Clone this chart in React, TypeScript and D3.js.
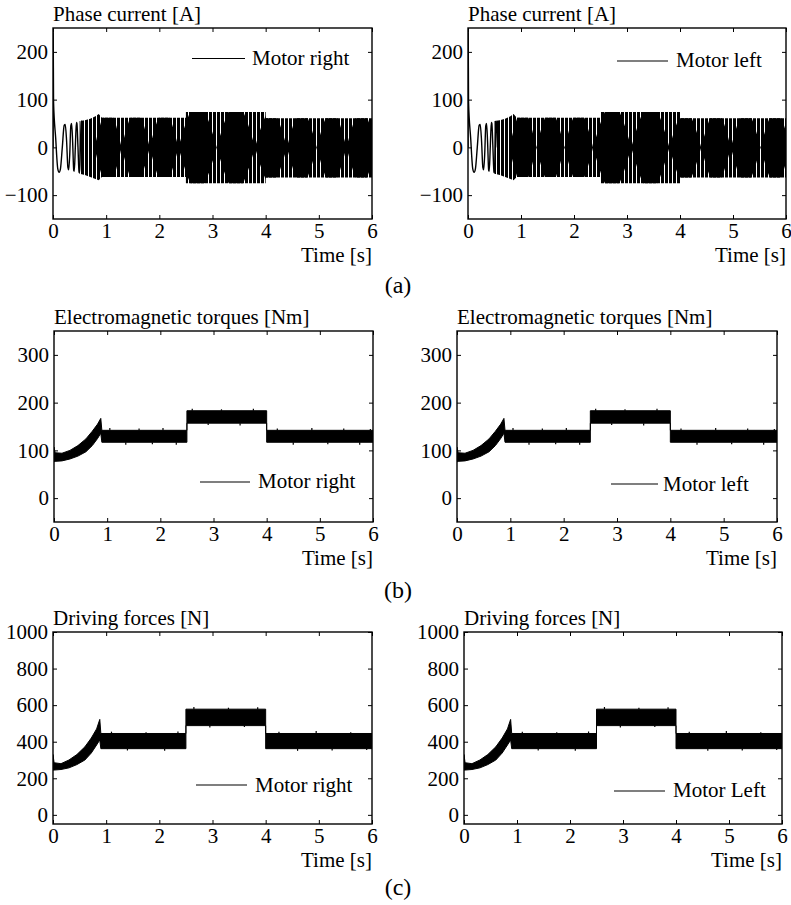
import React, { useEffect, useRef } from 'react';
import * as d3 from 'd3';

const timeTicks = [0, 1, 2, 3, 4, 5, 6];
const currentTicks = [-100, 0, 100, 200];
const torqueTicks = [0, 100, 200, 300];
const forceTicks = [0, 200, 400, 600, 800, 1000];

// phase current, start-up swing (read peak by peak)
const startT = [0, 0.004, 0.01, 0.05, 0.09, 0.115, 0.14, 0.175, 0.21, 0.23, 0.255, 0.28, 0.295, 0.315, 0.335, 0.35, 0.37, 0.39, 0.4, 0.42, 0.44, 0.45, 0.47, 0.49, 0.5, 0.515, 0.53, 0.54, 0.555];
const startI = [0, 240, 96, 20, -45, -52, -45, 0, 46, 48, 15, -42, -47, -15, 45, 50, 10, -48, -50, 0, 52, 50, 0, -52, -53, 0, 54, 55, 0];

// phase current, envelope of the dense part
const envT = [0.5, 0.6, 0.7, 0.8, 0.86, 0.92, 2.5, 2.5, 4.0, 4.0, 6.0];
const envHi = [55, 57, 60, 65, 70, 62, 62, 74, 74, 61, 61];
const envLo = [-55, -58, -62, -66, -69, -62, -62, -75, -75, -63, -63];

// waists of the beat lobes and lobe heights
const beatNodes = [0.78, 1.29, 1.82, 2.36, 3.08, 3.8, 4.4, 4.96, 5.52, 6.08];
const lobeAmp = [64, 62, 62, 74, 74, 62, 62, 62, 62];

// torque and force bands (time, upper edge, lower edge)
const bandT = [0, 0.02, 0.15, 0.3, 0.45, 0.6, 0.72, 0.82, 0.88, 0.9, 2.5, 2.5, 4.0, 4.0, 6.0];
const torqueHi = [107, 95, 94, 100, 110, 124, 140, 155, 167, 142, 142, 183, 183, 142, 142];
const torqueLo = [76, 77, 78, 82, 88, 97, 110, 125, 136, 117, 117, 157, 157, 117, 117];
const forceHi = [330, 285, 280, 300, 330, 372, 420, 470, 522, 445, 445, 578, 578, 445, 445];
const forceLo = [245, 245, 248, 257, 275, 300, 338, 382, 410, 362, 362, 488, 488, 362, 362];

// noise spikes sticking out of the bands (time, band edge, tip)
const torqueSpikeT = [1.05, 1.35, 1.6, 1.85, 2.05, 2.3, 2.6, 2.9, 3.15, 3.5, 3.75, 4.2, 4.5, 4.85, 5.15, 5.45, 5.75, 5.95];
const torqueSpikeEdge = [142, 117, 142, 117, 142, 117, 183, 157, 183, 157, 183, 142, 117, 142, 117, 142, 117, 142];
const torqueSpikeTip = [147, 112, 146, 113, 147, 112, 187, 153, 186, 152, 187, 146, 112, 147, 113, 146, 112, 145];
const forceSpikeT = [1.1, 1.4, 1.75, 2.1, 2.35, 2.65, 2.95, 3.3, 3.6, 3.85, 4.25, 4.6, 4.95, 5.25, 5.6, 5.9];
const forceSpikeEdge = [445, 362, 445, 362, 445, 578, 488, 578, 488, 578, 445, 362, 445, 362, 445, 362];
const forceSpikeTip = [455, 352, 452, 350, 456, 590, 478, 586, 480, 588, 455, 350, 458, 352, 452, 355];

const FONT = "'Liberation Serif', 'Times New Roman', Times, serif";

const panels = [
  { id: 'ar', kind: 'current', title: 'Phase current [A]', legend: 'Motor right', left: 53, right: 372, top: 28, bottom: 219, domain: [-150, 250], yTicks: currentTicks, leg: { x1: 192, x2: 245, y: 58.5, tx: 252, ty: 65 } },
  { id: 'al', kind: 'current', title: 'Phase current [A]', legend: 'Motor left', left: 468, right: 786, top: 28, bottom: 219, domain: [-150, 250], yTicks: currentTicks, leg: { x1: 617, x2: 668, y: 61, tx: 676, ty: 67 } },
  { id: 'br', kind: 'torque', title: 'Electromagnetic torques [Nm]', legend: 'Motor right', left: 54, right: 373, top: 331, bottom: 522, domain: [-50, 350], yTicks: torqueTicks, leg: { x1: 200, x2: 250, y: 482, tx: 258, ty: 488 } },
  { id: 'bl', kind: 'torque', title: 'Electromagnetic torques [Nm]', legend: 'Motor left', left: 457, right: 777, top: 331, bottom: 522, domain: [-50, 350], yTicks: torqueTicks, leg: { x1: 611, x2: 658, y: 484, tx: 663, ty: 491 } },
  { id: 'cr', kind: 'force', title: 'Driving forces [N]', legend: 'Motor right', left: 53, right: 372, top: 632, bottom: 824, domain: [-50, 1000], yTicks: forceTicks, leg: { x1: 196, x2: 247, y: 785, tx: 255, ty: 792 } },
  { id: 'cl', kind: 'force', title: 'Driving forces [N]', legend: 'Motor Left', left: 464, right: 782, top: 632, bottom: 824, domain: [-50, 1000], yTicks: forceTicks, leg: { x1: 614, x2: 665, y: 791, tx: 673, ty: 797 } },
];

const subLabels = [
  { text: '(a)', y: 293 },
  { text: '(b)', y: 598 },
  { text: '(c)', y: 895 },
];

function drawPanel(svg, defs, p) {
  const x = d3.scaleLinear().domain([0, 6]).range([p.left, p.right]);
  const y = d3.scaleLinear().domain(p.domain).range([p.bottom, p.top]);
  const g = svg.append('g');

  defs
    .append('clipPath')
    .attr('id', `clip-${p.id}`)
    .append('rect')
    .attr('x', p.left)
    .attr('y', p.top)
    .attr('width', p.right - p.left)
    .attr('height', p.bottom - p.top);

  const plot = g.append('g').attr('clip-path', `url(#clip-${p.id})`);

  if (p.kind === 'current') {
    const env = envT.map((t, i) => ({ t, hi: envHi[i], lo: envLo[i] }));
    const envArea = d3
      .area()
      .x(d => x(d.t))
      .y0(d => y(d.lo))
      .y1(d => y(d.hi));
    defs
      .append('clipPath')
      .attr('id', `env-${p.id}`)
      .append('path')
      .attr('d', envArea(env));

    plot.append('path').attr('d', envArea(env)).attr('fill', 'url(#stripes)');

    const lobes = plot.append('g').attr('clip-path', `url(#env-${p.id})`);
    const lobeArea = d3
      .area()
      .x(d => x(d.t))
      .y0(d => y(-d.v))
      .y1(d => y(d.v))
      .curve(d3.curveNatural);
    beatNodes.slice(0, -1).forEach((n0, i) => {
      const n1 = beatNodes[i + 1];
      const pts = [
        { t: n0, v: 0 },
        { t: (n0 + n1) / 2, v: lobeAmp[i] * 1.25 },
        { t: n1, v: 0 },
      ];
      lobes.append('path').attr('d', lobeArea(pts)).attr('fill', '#000');
    });

    const start = startT.map((t, i) => ({ t, v: startI[i] }));
    plot
      .append('path')
      .attr(
        'd',
        d3
          .line()
          .x(d => x(d.t))
          .y(d => y(d.v))
          .curve(d3.curveMonotoneX)(start)
      )
      .attr('fill', 'none')
      .attr('stroke', '#000')
      .attr('stroke-width', 1.4);
  } else {
    const isTorque = p.kind === 'torque';
    const hi = isTorque ? torqueHi : forceHi;
    const lo = isTorque ? torqueLo : forceLo;
    const band = bandT.map((t, i) => ({ t, hi: hi[i], lo: lo[i] }));
    plot
      .append('path')
      .attr(
        'd',
        d3
          .area()
          .x(d => x(d.t))
          .y0(d => y(d.lo))
          .y1(d => y(d.hi))(band)
      )
      .attr('fill', '#000')
      .attr('stroke', '#000')
      .attr('stroke-width', 1);

    const sT = isTorque ? torqueSpikeT : forceSpikeT;
    const sE = isTorque ? torqueSpikeEdge : forceSpikeEdge;
    const sV = isTorque ? torqueSpikeTip : forceSpikeTip;
    plot
      .selectAll('line.spike')
      .data(sT)
      .enter()
      .append('line')
      .attr('class', 'spike')
      .attr('x1', d => x(d))
      .attr('x2', d => x(d))
      .attr('y1', (d, i) => y(sE[i]))
      .attr('y2', (d, i) => y(sV[i]))
      .attr('stroke', '#000')
      .attr('stroke-width', 1.2);
  }

  // box with inward ticks on all sides
  const styleAxis = sel => {
    sel.select('.domain').remove();
    sel.attr('font-size', 21).attr('font-family', FONT);
    sel.selectAll('line').attr('stroke', '#000');
    sel.selectAll('text').attr('fill', '#000');
  };
  g.append('g')
    .attr('transform', `translate(0,${p.bottom})`)
    .call(d3.axisBottom(x).tickValues(timeTicks).tickSize(-4).tickPadding(4).tickFormat(d3.format('d')))
    .call(styleAxis);
  g.append('g')
    .attr('transform', `translate(0,${p.top})`)
    .call(d3.axisTop(x).tickValues(timeTicks).tickSize(-4).tickFormat(() => ''))
    .call(styleAxis);
  g.append('g')
    .attr('transform', `translate(${p.left},0)`)
    .call(d3.axisLeft(y).tickValues(p.yTicks).tickSize(-4).tickPadding(5).tickFormat(d3.format('d')))
    .call(styleAxis);
  g.append('g')
    .attr('transform', `translate(${p.right},0)`)
    .call(d3.axisRight(y).tickValues(p.yTicks).tickSize(-4).tickFormat(() => ''))
    .call(styleAxis);

  g.append('rect')
    .attr('x', p.left)
    .attr('y', p.top)
    .attr('width', p.right - p.left)
    .attr('height', p.bottom - p.top)
    .attr('fill', 'none')
    .attr('stroke', '#000')
    .attr('stroke-width', 1.4);

  g.append('text')
    .attr('x', p.left)
    .attr('y', p.top - 7)
    .attr('font-family', FONT)
    .attr('font-size', 21)
    .text(p.title);

  g.append('text')
    .attr('x', p.right)
    .attr('y', p.bottom + 43)
    .attr('text-anchor', 'end')
    .attr('font-family', FONT)
    .attr('font-size', 21)
    .text('Time [s]');

  g.append('line')
    .attr('x1', p.leg.x1)
    .attr('x2', p.leg.x2)
    .attr('y1', p.leg.y)
    .attr('y2', p.leg.y)
    .attr('stroke', '#000')
    .attr('stroke-width', 1.2);
  g.append('text')
    .attr('x', p.leg.tx)
    .attr('y', p.leg.ty)
    .attr('font-family', FONT)
    .attr('font-size', 21)
    .text(p.legend);
}

export default function App() {
  const ref = useRef(null);

  useEffect(() => {
    const svg = d3.select(ref.current);
    svg.selectAll('*').remove();
    const defs = svg.append('defs');

    // vertical hatching of the dense current trace outside the beat lobes
    const pat = defs
      .append('pattern')
      .attr('id', 'stripes')
      .attr('patternUnits', 'userSpaceOnUse')
      .attr('width', 4)
      .attr('height', 6);
    pat.append('rect').attr('width', 4).attr('height', 6).attr('fill', '#000');
    pat.append('rect').attr('width', 1).attr('height', 6).attr('fill', '#fff');

    panels.forEach(p => drawPanel(svg, defs, p));

    svg
      .selectAll('text.sub')
      .data(subLabels)
      .enter()
      .append('text')
      .attr('class', 'sub')
      .attr('x', 398)
      .attr('y', d => d.y)
      .attr('text-anchor', 'middle')
      .attr('font-family', FONT)
      .attr('font-size', 24)
      .text(d => d.text);
  }, []);

  return (
    <div style={{ position: 'absolute', left: 0, top: 0 }}>
      <svg ref={ref} width={791} height={905} style={{ display: 'block', background: '#fff' }} />
    </div>
  );
}
